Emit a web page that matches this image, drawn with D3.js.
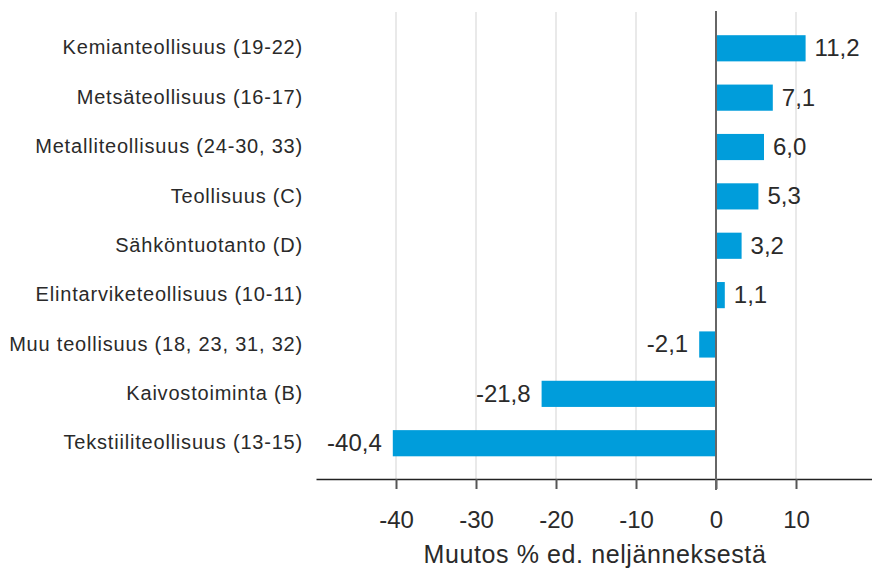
<!DOCTYPE html>
<meta charset="utf-8">
<script src="https://d3js.org/d3.v7.min.js"></script>
<style>
  body { margin: 0; background: #fff; }
  text { font-family: "Liberation Sans", Arial, sans-serif; }
</style>
<div id="chart"></div>
<script>
// data
const categories = [
  "Kemianteollisuus (19-22)",
  "Metsäteollisuus (16-17)",
  "Metalliteollisuus (24-30, 33)",
  "Teollisuus (C)",
  "Sähköntuotanto (D)",
  "Elintarviketeollisuus (10-11)",
  "Muu teollisuus (18, 23, 31, 32)",
  "Kaivostoiminta (B)",
  "Tekstiiliteollisuus (13-15)"
];
const values = [11.2, 7.1, 6.0, 5.3, 3.2, 1.1, -2.1, -21.8, -40.4];
const tickValues = [-40, -30, -20, -10, 0, 10];
const axisTitle = "Muutos % ed. neljänneksestä";

const width = 872, height = 571;
const margin = {top: 12, right: 0, bottom: 92, left: 316};

const svg = d3.select("#chart").append("svg")
  .attr("width", width)
  .attr("height", height);

const x = d3.scaleLinear()
  .domain([-50, 19.5])
  .range([margin.left, width - margin.right]);

const y = d3.scaleBand()
  .domain(categories)
  .range([margin.top, height - margin.bottom + 0.5])
  .padding(0.47);

const fmt = v => d3.format(".1f")(v).replace(".", ",").replace("−", "-");

// gridlines
svg.append("g").selectAll("line")
  .data(tickValues.filter(d => d !== 0))
  .join("line")
    .attr("x1", d => x(d)).attr("x2", d => x(d))
    .attr("y1", margin.top).attr("y2", height - margin.bottom)
    .attr("stroke", "#e2e2e2")
    .attr("stroke-width", 1.5);

// bars
svg.append("g").selectAll("rect")
  .data(values)
  .join("rect")
    .attr("x", d => x(Math.min(0, d)))
    .attr("width", d => Math.abs(x(d) - x(0)))
    .attr("y", (d, i) => y(categories[i]))
    .attr("height", y.bandwidth())
    .attr("fill", "#009ddb");

// value labels
svg.append("g").selectAll("text")
  .data(values)
  .join("text")
    .attr("x", d => d >= 0 ? x(d) + 9 : x(d) - 11)
    .attr("y", (d, i) => y(categories[i]) + y.bandwidth() / 2)
    .attr("dy", "0.33em")
    .attr("text-anchor", d => d >= 0 ? "start" : "end")
    .style("font-size", "24px")
    .attr("fill", "#2a2a2a")
    .text(d => fmt(d));

// category labels
svg.append("g").selectAll("text")
  .data(categories)
  .join("text")
    .attr("x", margin.left - 13)
    .attr("y", d => y(d) + y.bandwidth() / 2)
    .attr("dy", "0.31em")
    .attr("text-anchor", "end")
    .style("font-size", "20px")
    .style("letter-spacing", "0.8px")
    .attr("fill", "#2a2a2a")
    .text(d => d);

// x axis
const xAxis = svg.append("g")
  .attr("transform", `translate(0, ${height - margin.bottom})`)
  .call(d3.axisBottom(x).tickValues(tickValues).tickSize(10).tickSizeOuter(0).tickFormat(d => String(d)));
xAxis.select(".domain").attr("stroke", "#222").attr("stroke-width", 1.5);
xAxis.selectAll(".tick line").attr("stroke", "#555").attr("stroke-width", 2);
xAxis.selectAll(".tick text")
  .attr("y", 49)
  .attr("dy", null)
  .style("font-family", "'Liberation Sans', Arial, sans-serif")
  .style("font-size", "24px")
  .attr("fill", "#2a2a2a");

// zero line
svg.append("line")
  .attr("x1", x(0)).attr("x2", x(0))
  .attr("y1", margin.top - 1).attr("y2", height - margin.bottom + 11)
  .attr("stroke", "#666")
  .attr("stroke-width", 2);

// axis title
svg.append("text")
  .attr("x", 595)
  .attr("y", 563)
  .attr("text-anchor", "middle")
  .style("font-size", "25px")
  .style("letter-spacing", "0.6px")
  .attr("fill", "#2a2a2a")
  .text(axisTitle);
</script>
